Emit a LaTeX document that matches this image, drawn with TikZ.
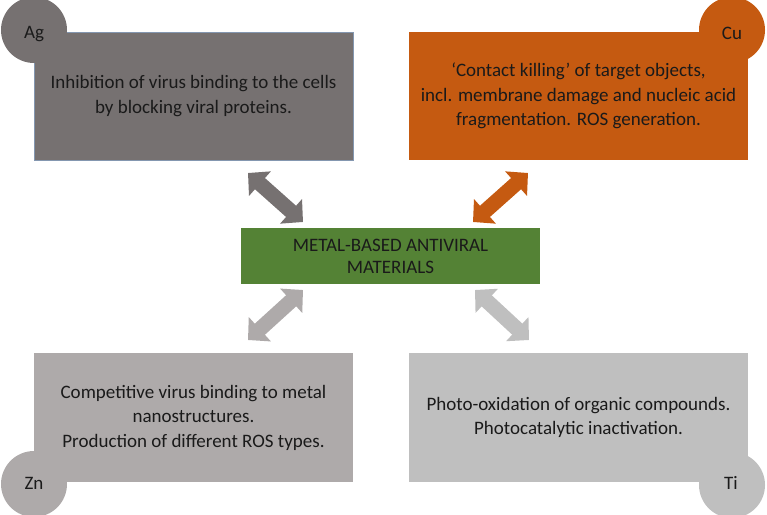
\documentclass[tikz,border=0pt]{standalone}
\usepackage{fontspec}
\setmainfont{Carlito}
\usetikzlibrary{arrows.meta}
\definecolor{agc}{HTML}{767171}
\definecolor{cuc}{HTML}{C55A11}
\definecolor{znc}{HTML}{AEAAAA}
\definecolor{tic}{HTML}{BFBFBF}
\definecolor{grc}{HTML}{548235}
\definecolor{edgec}{HTML}{8497B0}
\definecolor{txt}{HTML}{1A1A1A}
\tikzset{
  x=1pt, y=-1pt,
  box/.style={rectangle, inner sep=0pt, align=center, text=txt,
    font=\fontsize{19}{24.5}\selectfont},
  badge/.style={circle, minimum size=66pt, inner sep=0pt, text=txt,
    font=\fontsize{19}{22}\selectfont},
  link/.style={line width=15pt,
    {Triangle[length=16pt,width=32pt]}-{Triangle[length=16pt,width=32pt]}}
}
\begin{document}
\begin{tikzpicture}
\useasboundingbox (0,0) rectangle (767,514);
\clip (0,0) rectangle (767,514);
% boxes
\node[box, fill=agc, draw=edgec, line width=0.6pt, minimum width=319pt, minimum height=128pt] (ag) at (193.5,96)
  {Inhibition of virus binding to the cells\\by blocking viral proteins.};
\node[box, fill=cuc, minimum width=339pt, minimum height=128pt] (cu) at (578.5,96)
  {‘Contact killing’ of target objects,\\incl. membrane damage and nucleic acid\\fragmentation. ROS generation.};
\node[box, fill=znc, minimum width=319pt, minimum height=129pt] (zn) at (193.5,417.5)
  {Competitive virus binding to metal\\nanostructures.\\Production of different ROS types.};
\node[box, fill=tic, minimum width=339pt, minimum height=129pt] (ti) at (578.5,417.5)
  {Photo-oxidation of organic compounds.\\Photocatalytic inactivation.};
\node[box, fill=grc, minimum width=299pt, minimum height=56pt, font=\fontsize{19}{22}\selectfont] (mat) at (390.5,256)
  {METAL-BASED ANTIVIRAL\\MATERIALS};
% circles
\node[badge, fill=agc] (agc) at (34,30) {};
\node[badge, fill=cuc] (cuc) at (732,30) {};
\node[badge, fill=znc] (znc) at (34,484) {};
\node[badge, fill=tic] (tic) at (732,485) {};
% circle labels
\node[badge] (agl) at (34,34) {Ag};
\node[badge] (cul) at (732,33) {Cu};
\node[badge] (znl) at (34,483) {Zn};
\node[badge] (til) at (731,483) {Ti};
% arrow ends
\coordinate (ag1) at (248,173);
\coordinate (ag2) at (303,222);
\coordinate (cu1) at (528,173);
\coordinate (cu2) at (473,222);
\coordinate (zn1) at (303,290);
\coordinate (zn2) at (248,340);
\coordinate (ti1) at (475,290);
\coordinate (ti2) at (529,340);
\draw[link, draw=agc, fill=agc] (ag1) -- (ag2);
\draw[link, draw=cuc, fill=cuc] (cu1) -- (cu2);
\draw[link, draw=znc, fill=znc] (zn1) -- (zn2);
\draw[link, draw=tic, fill=tic] (ti1) -- (ti2);
\end{tikzpicture}
\end{document}
